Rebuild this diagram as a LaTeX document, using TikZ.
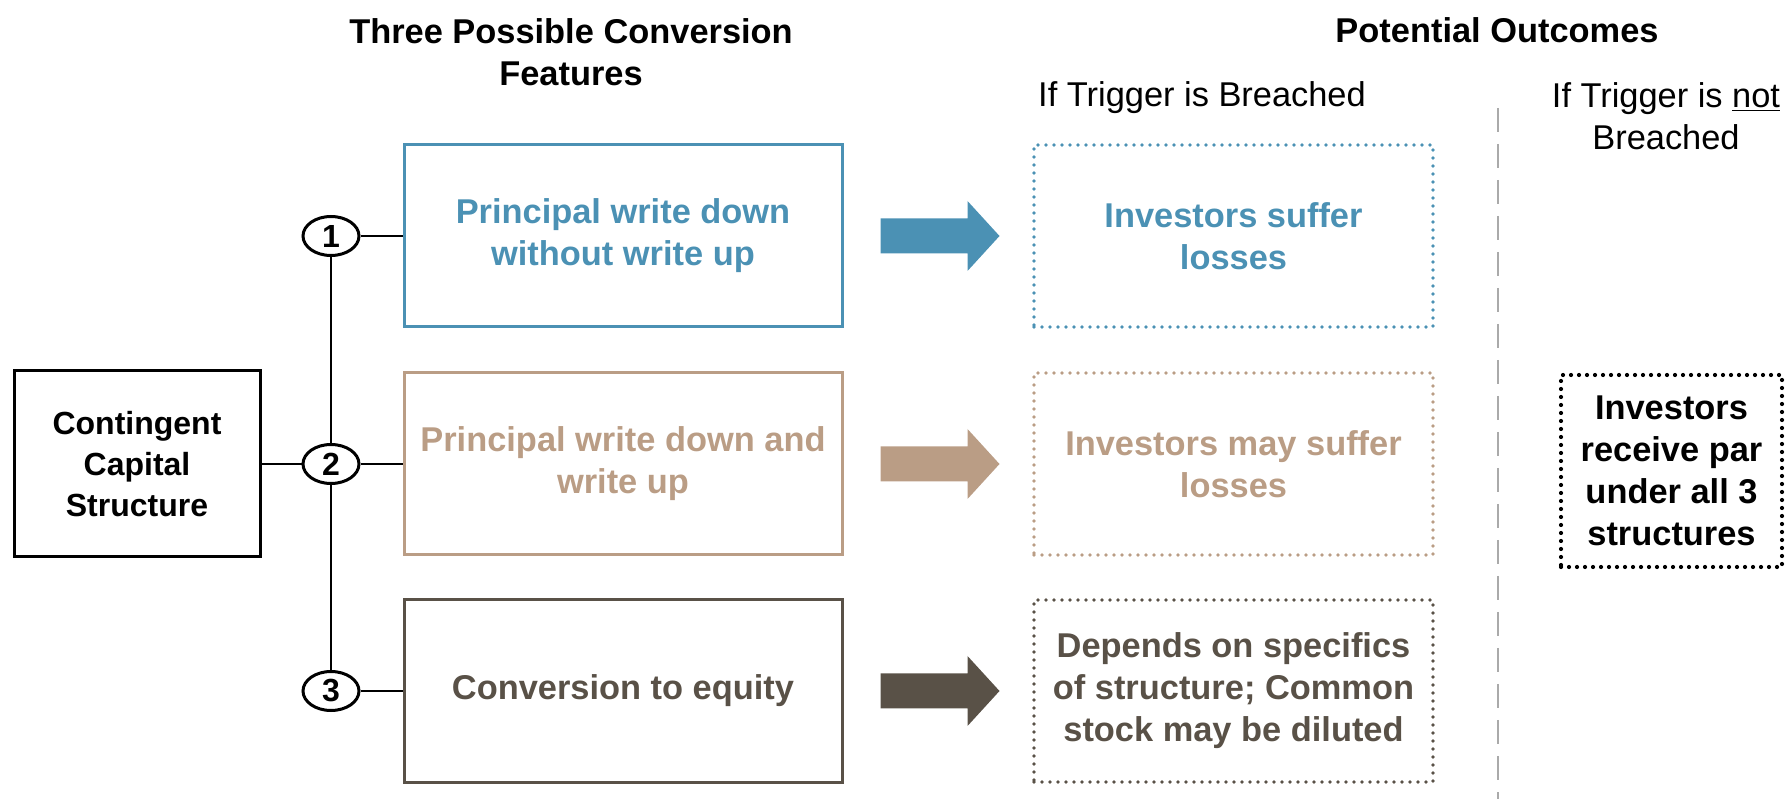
\documentclass[tikz,border=0pt]{standalone}
\usepackage{fontspec}
\setmainfont{Liberation Sans}
\usepackage{tikz}
\usetikzlibrary{calc, shapes.geometric}

\definecolor{featblue}{RGB}{75,145,180}
\definecolor{feattan}{RGB}{186,157,133}
\definecolor{featbrown}{RGB}{89,81,71}
\definecolor{sepgray}{RGB}{170,170,170}

\tikzset{
    txt/.style={font=\fontsize{17.2}{21}\selectfont\bfseries, align=center},
    feature/.style={txt, draw=#1, text=#1, line width=1.5pt,
        minimum width=219pt, minimum height=91pt, inner sep=0pt},
    outcome/.style={txt, draw=#1, text=#1, line width=1.9pt, line cap=round,
        dash pattern=on 0pt off 4pt, minimum width=199.5pt, minimum height=91pt, inner sep=0pt},
    num/.style={ellipse, draw, line width=1.5pt, minimum width=28pt, minimum height=19.5pt,
        inner sep=0pt, font=\fontsize{16}{16}\selectfont\bfseries},
}

\begin{document}
\begin{tikzpicture}[x=0.5pt, y=-0.5pt]
        \useasboundingbox (0, 0) rectangle (1789, 801);
        % headings
        \node [txt, anchor=north, inner sep=0pt] (headfeat) at (571, 18) {Three Possible Conversion\\Features};
        \node [txt, anchor=base, inner sep=0pt] (headout) at (1497, 43) {Potential Outcomes};
        \node [anchor=base, inner sep=0pt, font=\fontsize{17.2}{21}\selectfont] (headyes) at (1202, 107)
            {If Trigger is Breached};
        \node [anchor=north, align=center, inner sep=0pt, font=\fontsize{17.2}{21}\selectfont] (headno) at (1666, 82)
            {If Trigger is \underline{not}\\Breached};
        \coordinate (septop) at (1498, 108);
        \coordinate (sepbot) at (1498, 799);
        \path [draw, sepgray, line width=1pt, dash pattern=on 12pt off 6pt] (septop) -- (sepbot);
        % structure
        \node [draw, line width=1.5pt, minimum width=123pt, minimum height=93pt, align=center,
            font=\fontsize{16}{20.5}\selectfont\bfseries] (ccs) at (137, 464)
            {Contingent\\Capital\\Structure};
        \node [num] (n1) at (331, 236) {1};
        \node [num] (n2) at (331, 464) {2};
        \node [num] (n3) at (331, 691) {3};
        \node [feature=featblue] (f1) at (623, 236) {Principal write down\\without write up};
        \node [feature=feattan] (f2) at (623, 464) {Principal write down and\\write up};
        \node [feature=featbrown] (f3) at (623, 691) {Conversion to equity};
        \node [outcome=featblue] (o1) at (1233.5, 236) {Investors suffer\\losses};
        \node [outcome=feattan] (o2) at (1233.5, 464) {Investors may suffer\\losses};
        \node [outcome=featbrown] (o3) at (1233.5, 691) {Depends on specifics\\of structure; Common\\stock may be diluted};
        \node [outcome=black, line width=2.1pt, minimum width=110.5pt, minimum height=96pt] (par) at (1671.5, 471)
            {Investors\\receive par\\under all 3\\structures};
        \path [draw, line width=1pt] (ccs) -- (n2);
        \path [draw, line width=1pt] (n1) -- (n2);
        \path [draw, line width=1pt] (n2) -- (n3);
        \foreach \i/\col in {1/featblue, 2/feattan, 3/featbrown} {
            \path [draw, line width=1pt] (n\i) -- (f\i);
            \fill [\col] ($(f\i.east)+(37,-17.5)$) -- ++(87,0) -- ++(0,-17.5) -- ++(32,35)
                -- ++(-32,35) -- ++(0,-17.5) -- ++(-87,0) -- cycle;
        }
\end{tikzpicture}
\end{document}
